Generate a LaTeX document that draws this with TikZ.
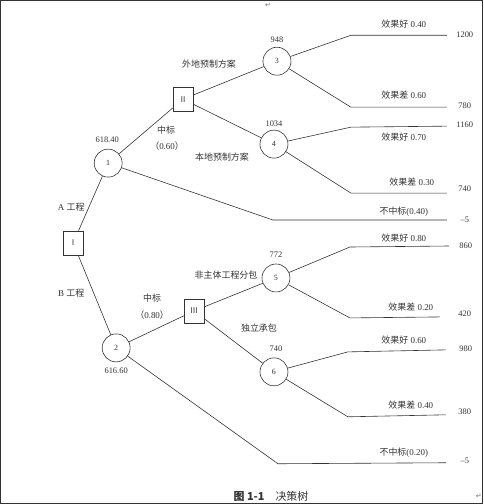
\documentclass[tikz,border=0pt]{standalone}
\usepackage{fontspec}
\setmainfont{Liberation Serif}
\newfontfamily\cjk{Noto Sans CJK SC}
\newfontfamily\symf{DejaVu Sans}
\definecolor{ink}{HTML}{333333}
\begin{document}
\begin{tikzpicture}[x=1bp,y=-1bp,
  every path/.style={draw=ink,line width=0.6bp},
  chance/.style={circle,draw=ink,line width=0.6bp,minimum size=28bp,inner sep=0pt,font=\fontsize{8}{9}\selectfont,text=ink},
  dec/.style={rectangle,draw=ink,line width=0.6bp,minimum width=20bp,minimum height=24bp,inner sep=0pt,font=\cjk\fontsize{8}{9}\selectfont,text=ink},
  lbl/.style={inner sep=0pt,text=ink,font=\fontsize{9}{10}\selectfont},
  num/.style={inner sep=0pt,text=ink,font=\fontsize{8.5}{10}\selectfont}]
\useasboundingbox (0,0) rectangle (483,504);
% decision / chance nodes
\node[dec] (d1) at (73,243) {Ⅰ};
\node[dec] (d2) at (183,99) {Ⅱ};
\node[dec] (d3) at (194,311) {Ⅲ};
\node[chance] (c1) at (108,163) {1};
\node[chance] (c2) at (116,348) {2};
\node[chance] (c3) at (277,61) {3};
\node[chance] (c4) at (274,144) {4};
\node[chance] (c5) at (276,278) {5};
\node[chance] (c6) at (274,372) {6};
% bend and end coordinates
\coordinate (b1) at (273,220); \coordinate (e1) at (447,220);
\coordinate (b3u) at (351,35);  \coordinate (e3u) at (447,35);
\coordinate (b3d) at (351,107); \coordinate (e3d) at (447,107);
\coordinate (b4u) at (351,127); \coordinate (e4u) at (447,126);
\coordinate (b4d) at (351,193); \coordinate (e4d) at (447,193);
\coordinate (b2) at (278,464);  \coordinate (e2) at (446,463);
\coordinate (b5u) at (350,247); \coordinate (e5u) at (449,246);
\coordinate (b5d) at (350,318); \coordinate (e5d) at (440,317);
\coordinate (b6u) at (348,352); \coordinate (e6u) at (446,350);
\coordinate (b6d) at (348,417); \coordinate (e6d) at (446,415);
% connectors
\draw (d1) -- (c1);
\draw (d1) -- (c2);
\draw (c1) -- (d2);
\draw (c1) -- (b1) -- (e1);
\draw (d2) -- (c3);
\draw (d2) -- (c4);
\draw (c3) -- (b3u) -- (e3u);
\draw (c3) -- (b3d) -- (e3d);
\draw (c4) -- (b4u) -- (e4u);
\draw (c4) -- (b4d) -- (e4d);
\draw (c2) -- (d3);
\draw (c2) -- (b2) -- (e2);
\draw (d3) -- (c5);
\draw (d3) -- (c6);
\draw (c5) -- (b5u) -- (e5u);
\draw (c5) -- (b5d) -- (e5d);
\draw (c6) -- (b6u) -- (e6u);
\draw (c6) -- (b6d) -- (e6d);
% node values
\node[num] (v1) at (107,140) {618.40};
\node[num] (v2) at (116,371) {616.60};
\node[num] (v3) at (277,39) {948};
\node[num] (v4) at (274,124) {1034};
\node[num] (v5) at (276,255) {772};
\node[num] (v6) at (276,349) {740};
% branch labels
\node[lbl] (la) at (71,207) {A {\cjk 工程}};
\node[lbl] (lb) at (71,293) {B {\cjk 工程}};
\node[lbl] (lz1) at (166,130) {\cjk 中标};
\node[lbl] (lp1) at (167,146) {\cjk （\rmfamily 0.60\cjk ）};
\node[lbl] (lz2) at (152,298) {\cjk 中标};
\node[lbl] (lp2) at (152,315) {\cjk （\rmfamily 0.80\cjk ）};
\node[lbl] (lw) at (209,64) {\cjk 外地预制方案};
\node[lbl] (lbd) at (222,157) {\cjk 本地预制方案};
\node[lbl] (lf) at (226,275) {\cjk 非主体工程分包};
\node[lbl] (ld) at (259,328) {\cjk 独立承包};
\node[lbl] (g3) at (404,24) {{\cjk 效果好} 0.40};
\node[lbl] (p3) at (404,95) {{\cjk 效果差} 0.60};
\node[lbl] (g4) at (404,137) {{\cjk 效果好} 0.70};
\node[lbl] (p4) at (412,182) {{\cjk 效果差} 0.30};
\node[lbl] (n1) at (404,212) {{\cjk 不中标}(0.40)};
\node[lbl] (g5) at (404,238) {{\cjk 效果好} 0.80};
\node[lbl] (p5) at (411,307) {{\cjk 效果差} 0.20};
\node[lbl] (g6) at (404,340) {{\cjk 效果好} 0.60};
\node[lbl] (p6) at (411,405) {{\cjk 效果差} 0.40};
\node[lbl] (n2) at (404,453) {{\cjk 不中标}(0.20)};
% payoffs
\node[num] (r1) at (465,34) {1200};
\node[num] (r2) at (465,106) {780};
\node[num] (r3) at (465,125) {1160};
\node[num] (r4) at (465,189) {740};
\node[num] (r5) at (465,220) {--5};
\node[num] (r6) at (466,246) {860};
\node[num] (r7) at (465,314) {420};
\node[num] (r8) at (466,349) {980};
\node[num] (r9) at (465,412) {380};
\node[num] (r10) at (465,461) {--5};
% caption
\node[inner sep=0pt,text=ink,font=\cjk\fontsize{11}{12}\selectfont] (cap) at (271,497) {{\bfseries 图 1-1}\quad 决策树};
\node[inner sep=0pt,text=ink!70,font=\symf\fontsize{7}{8}\selectfont] (m1) at (268,5) {↵};
\node[inner sep=0pt,text=ink!70,font=\symf\fontsize{7}{8}\selectfont] (m2) at (479,497) {↵};
\end{tikzpicture}
\end{document}
